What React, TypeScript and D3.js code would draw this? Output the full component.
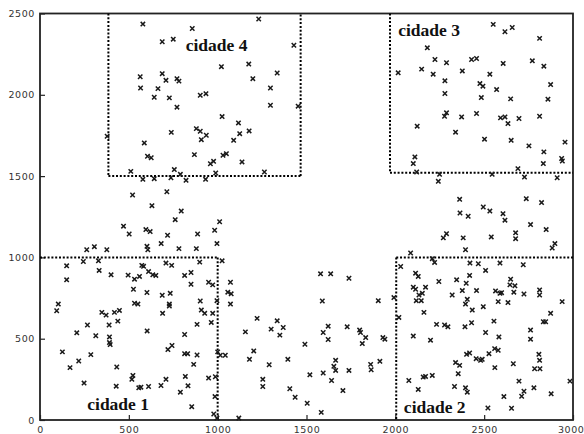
import React, { useEffect, useRef } from 'react'
import * as d3 from 'd3'

const width = 584
const height = 434
const margin = { top: 13.5, right: 11, bottom: 14, left: 40 }

const X_TICKS = [0, 500, 1000, 1500, 2000, 2500, 3000]
const Y_TICKS = [0, 500, 1000, 1500, 2000, 2500]

// points, grouped by where they sit
const upperLeftPts = [
  [579, 2435], [857, 2408], [688, 2326], [750, 2342], [1231, 2466], [1429, 2305], [1021, 2173], [1175, 2189],
  [1198, 2099], [1335, 2134], [1297, 2042], [1297, 1936], [1453, 1930], [564, 2111], [688, 2130], [709, 2089],
  [771, 2099], [782, 2084], [566, 2042], [664, 2038], [643, 1985], [728, 1981], [771, 1924], [902, 1997],
  [934, 2007], [1025, 1866], [1117, 1827], [1124, 1761], [1177, 1778], [1090, 1720], [880, 1792], [902, 1776],
  [936, 1751], [908, 1724], [739, 1769], [587, 1704], [605, 1622], [626, 1613], [869, 1632], [1030, 1628],
  [1049, 1638], [959, 1576], [977, 1591], [1137, 1587], [1263, 1525], [989, 1519], [932, 1480], [822, 1474],
  [790, 1511], [756, 1540], [737, 1490], [643, 1484], [579, 1480], [511, 1529], [378, 1745], [521, 1384],
  [714, 1404], [630, 1318], [795, 1285], [761, 1232],
]

const upperRightPts = [
  [2551, 2433], [2617, 2388], [2658, 2414], [2812, 2347], [2180, 2289], [2223, 2217], [2288, 2197], [2148, 2158],
  [2213, 2127], [2016, 2135], [2377, 2147], [2429, 2217], [2457, 2223], [2607, 2193], [2771, 2209], [2836, 2176],
  [2532, 2127], [2279, 2086], [2476, 2069], [2493, 2053], [2570, 2032], [2874, 2063], [2279, 2008], [2484, 1983],
  [2649, 1975], [2859, 1973], [2288, 1889], [2277, 1868], [2373, 1864], [2457, 1885], [2592, 1858], [2617, 1864],
  [2634, 1823], [2696, 1854], [2812, 1868], [2123, 1807], [2339, 1770], [2502, 1727], [2652, 1720], [2752, 1686],
  [2955, 1709], [2836, 1649], [2936, 1608], [2940, 1593], [2833, 1577], [2110, 1618], [2101, 1577], [2120, 1525],
  [2249, 1511], [2242, 1468], [2545, 1511], [2690, 1546], [2727, 1494], [2911, 1490], [2362, 1357], [2737, 1361],
  [2823, 1337], [2495, 1310], [2532, 1285], [2606, 1269], [2364, 1273], [2410, 1253],
]

const lowerLeftPts = [
  [1011, 1219], [470, 1192], [502, 1144], [596, 1171], [620, 1159], [718, 1136], [887, 1144], [983, 1167],
  [996, 1085], [682, 1085], [782, 1054], [880, 1054], [602, 1068], [607, 1047], [376, 1047], [306, 1066],
  [263, 1047], [244, 975], [329, 979], [150, 948], [150, 862], [333, 920], [400, 893], [496, 891],
  [532, 866], [560, 883], [573, 951], [583, 945], [611, 913], [635, 893], [652, 889], [709, 965],
  [741, 951], [899, 971], [1025, 979], [814, 889], [850, 907], [850, 835], [949, 847], [972, 831],
  [1072, 847], [526, 804], [602, 784], [688, 767], [733, 779], [1057, 786], [1076, 776], [996, 734],
  [902, 732], [1072, 713], [532, 718], [551, 713], [728, 713], [728, 701], [103, 713], [94, 672],
  [348, 662], [372, 645], [419, 662], [447, 674], [690, 656], [908, 676], [927, 656], [972, 656],
  [389, 584], [438, 608], [267, 584], [964, 600], [884, 588], [603, 548], [814, 526], [391, 511],
  [391, 476], [395, 464], [207, 536], [314, 518], [126, 419], [218, 363], [169, 322], [286, 402],
  [432, 326], [720, 433], [743, 458], [814, 408], [831, 408], [884, 400], [865, 342], [1000, 419],
  [1015, 398], [1043, 398], [1156, 542], [1222, 625], [1301, 559], [1335, 610], [1369, 569], [1350, 522],
  [1179, 373], [1203, 425], [1290, 340], [1395, 373], [1254, 250], [1254, 206], [1406, 192], [1436, 140],
  [248, 227], [429, 208], [517, 250], [523, 274], [556, 198], [568, 202], [611, 206], [681, 212],
  [709, 250], [818, 268], [833, 210], [790, 171], [949, 258], [987, 266], [854, 82], [978, 37],
  [996, 12], [1119, 12], [985, 144],
]

const lowerRightPts = [
  [2617, 1229], [2761, 1202], [2849, 1171], [2288, 1146], [2270, 1120], [2382, 1120], [2540, 1126], [2677, 1151],
  [2677, 1115], [2898, 1085], [2883, 1058], [2395, 1047], [2086, 1027], [2208, 992], [2221, 969], [2030, 944],
  [2114, 903], [2129, 883], [2420, 965], [2467, 961], [2589, 965], [2720, 955], [2508, 920], [2418, 889],
  [2245, 852], [2345, 862], [2399, 841], [2101, 817], [2114, 804], [2170, 817], [2133, 769], [2152, 779],
  [2118, 734], [2146, 734], [2161, 662], [2020, 631], [2320, 769], [2377, 796], [2457, 796], [2405, 742],
  [2395, 713], [2433, 676], [2495, 697], [2564, 794], [2589, 779], [2598, 783], [2579, 728], [2634, 722],
  [2649, 866], [2645, 831], [2673, 825], [2667, 786], [2724, 775], [2812, 800], [2812, 769], [2939, 728],
  [2874, 656], [2833, 604], [2846, 604], [2555, 608], [2232, 588], [2277, 584], [2296, 573], [2392, 573],
  [2429, 598], [2508, 538], [2583, 511], [2761, 553], [2761, 497], [2101, 516], [2198, 491], [2401, 404],
  [2418, 412], [2455, 377], [2480, 367], [2489, 373], [2527, 408], [2559, 439], [2579, 429], [2339, 353],
  [2362, 336], [2354, 285], [2560, 322], [2664, 346], [2808, 404], [2812, 367], [2784, 315], [2814, 315],
  [2076, 243], [2129, 188], [2157, 264], [2170, 268], [2208, 274], [2333, 206], [2395, 198], [2405, 171],
  [2696, 239], [2724, 177], [2711, 146], [2780, 198], [2611, 144], [2654, 72], [2521, 74], [2877, 161],
  [2983, 239],
]

const middlePts = [
  [1579, 899], [1636, 899], [1739, 872], [1589, 732], [1904, 734], [1992, 753], [1622, 577], [1594, 538],
  [1622, 495], [1729, 573], [1799, 553], [1804, 538], [1833, 507], [1814, 470], [1930, 507], [1941, 497],
  [1491, 466], [1664, 367], [1654, 330], [1664, 305], [1519, 278], [1594, 289], [1739, 305], [1861, 342],
  [1864, 309], [1913, 361], [1641, 243], [1705, 181], [1504, 103], [1583, 47],
]

// city limits (dotted lines) as [x1, y1, x2, y2]
const cityLines = [
  [385, 2500, 385, 1500], [385, 1500, 1467, 1500], [1467, 1500, 1467, 2500],
  [1970, 2500, 1970, 1520], [1970, 1520, 3000, 1520],
  [0, 1000, 1000, 1000], [1000, 1000, 1000, 0],
  [2005, 1000, 3000, 1000], [2005, 1000, 2005, 0],
]

const cityNames = ['cidade 1', 'cidade 2', 'cidade 3', 'cidade 4']
const cityLabelAt = [[266, 62], [2048, 43], [2016, 2362], [820, 2271]]

export default function App() {
  const ref = useRef(null)

  useEffect(() => {
    const svg = d3.select(ref.current)
    svg.selectAll('*').remove()

    const x = d3.scaleLinear().domain([0, 3000]).range([margin.left, width - margin.right])
    const y = d3.scaleLinear().domain([0, 2500]).range([height - margin.bottom, margin.top])

    const points = [...upperLeftPts, ...upperRightPts, ...lowerLeftPts, ...lowerRightPts, ...middlePts]

    // axes with inward ticks, matlab style
    const xAxis = svg.append('g')
      .attr('transform', `translate(0, ${y(0)})`)
      .call(d3.axisBottom(x).tickValues(X_TICKS).tickFormat(d3.format('d'))
        .tickSizeInner(-5).tickSizeOuter(0).tickPadding(6))
    const yAxis = svg.append('g')
      .attr('transform', `translate(${x(0)}, 0)`)
      .call(d3.axisLeft(y).tickValues(Y_TICKS).tickFormat(d3.format('d'))
        .tickSizeInner(-5).tickSizeOuter(0).tickPadding(5))

    for (const ax of [xAxis, yAxis]) {
      ax.select('.domain').remove()
      ax.selectAll('.tick line').attr('stroke', '#222').attr('stroke-width', 1.2)
      ax.selectAll('.tick text')
        .attr('fill', '#333')
        .style('font-family', '"DejaVu Sans", sans-serif')
        .style('font-size', '9.5px')
        .style('letter-spacing', '0.6px')
    }
    // last x label sits on the page edge
    xAxis.selectAll('.tick text').filter(d => d === 3000).attr('text-anchor', 'end').attr('x', 11)

    // frame
    svg.append('rect')
      .attr('x', x(0)).attr('y', y(2500))
      .attr('width', x(3000) - x(0)).attr('height', y(0) - y(2500))
      .attr('fill', 'none').attr('stroke', '#222').attr('stroke-width', 1.8)

    svg.append('g').selectAll('line')
      .data(cityLines)
      .enter().append('line')
      .attr('x1', d => x(d[0])).attr('y1', d => y(d[1]))
      .attr('x2', d => x(d[2])).attr('y2', d => y(d[3]))
      .attr('stroke', '#000')
      .attr('stroke-width', 2)
      .attr('stroke-dasharray', '2 1.8')

    const s = 2.2
    svg.append('g').selectAll('path')
      .data(points)
      .enter().append('path')
      .attr('transform', d => `translate(${x(d[0])}, ${y(d[1])})`)
      .attr('d', `M${-s},${-s}L${s},${s}M${-s},${s}L${s},${-s}`)
      .attr('stroke', '#1a1a1a')
      .attr('stroke-width', 1.5)
      .attr('fill', 'none')

    svg.append('g').selectAll('text')
      .data(cityNames)
      .enter().append('text')
      .attr('x', (d, i) => x(cityLabelAt[i][0]))
      .attr('y', (d, i) => y(cityLabelAt[i][1]))
      .style('font-family', '"Liberation Serif", "Times New Roman", serif')
      .style('font-weight', 'bold')
      .style('font-size', '17.5px')
      .attr('fill', '#111')
      .text(d => d)
  }, [])

  return (
    <svg
      ref={ref}
      width={width}
      height={height}
      style={{ position: 'absolute', left: 0, top: 0, background: '#fff', overflow: 'hidden' }}
    />
  )
}
